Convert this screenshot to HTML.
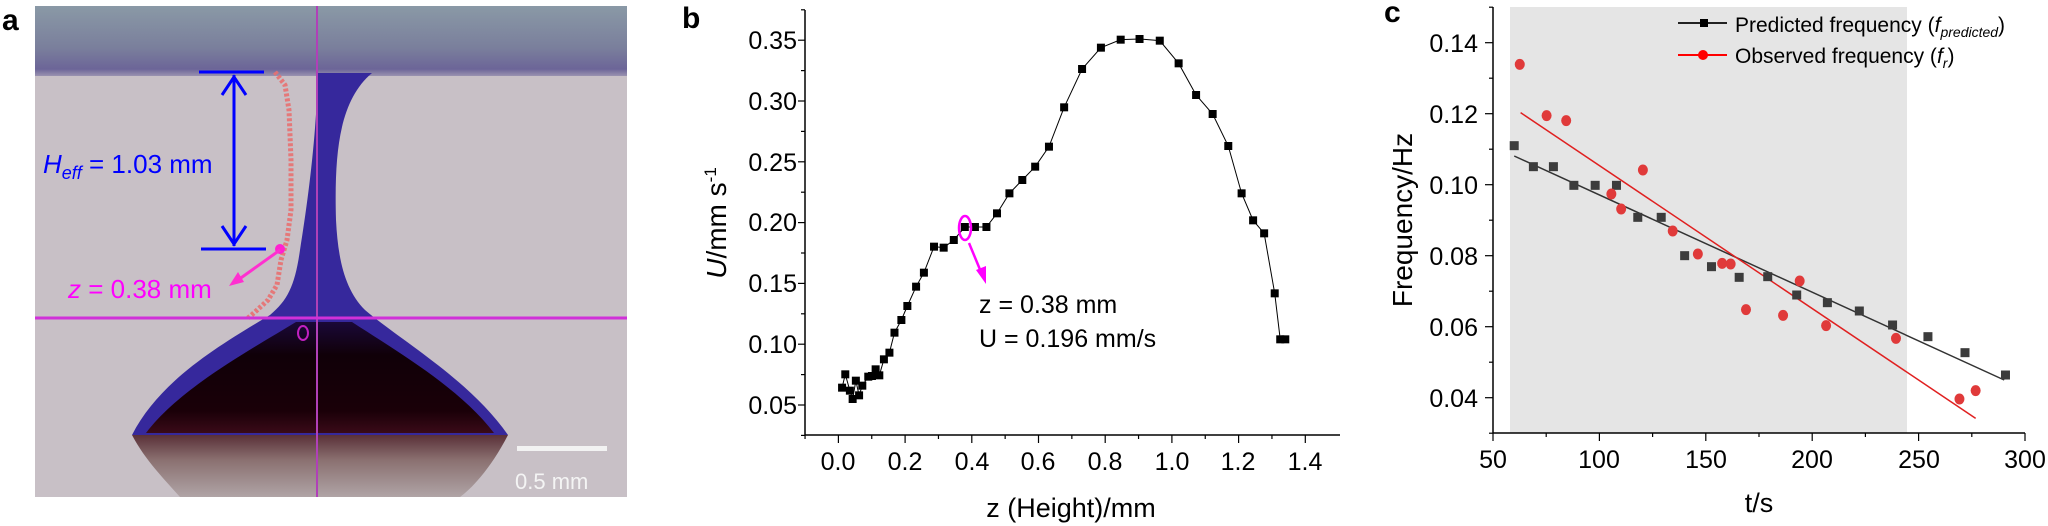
<!DOCTYPE html>
<html><head><meta charset="utf-8"><style>
html,body{margin:0;padding:0;background:#fff;}
svg{display:block;font-family:"Liberation Sans",sans-serif;}
</style></head><body>
<svg id="s" width="2048" height="526" viewBox="0 0 2048 526" xmlns="http://www.w3.org/2000/svg">
<defs>
<linearGradient id="top" x1="0" y1="0" x2="0" y2="1">
<stop offset="0" stop-color="#8a99a6"/><stop offset="0.6" stop-color="#7a7f9c"/><stop offset="0.9" stop-color="#6c6598"/><stop offset="1" stop-color="#9a92b0"/>
</linearGradient>
<linearGradient id="refl" x1="0" y1="0" x2="0" y2="1">
<stop offset="0" stop-color="#5a3038"/><stop offset="0.4" stop-color="#8a7070"/><stop offset="1" stop-color="#b0a4a6"/>
</linearGradient>
<linearGradient id="bulb" x1="0" y1="0" x2="0" y2="1">
<stop offset="0" stop-color="#1a0838"/><stop offset="0.3" stop-color="#100008"/><stop offset="0.8" stop-color="#1a0008"/><stop offset="1" stop-color="#3a0a18"/>
</linearGradient>
</defs>
<text x="2" y="30" font-size="30" font-weight="bold">a</text>
<rect x="35" y="6" width="592" height="491" fill="#c8c0c6"/>
<rect x="35" y="6" width="592" height="70" fill="url(#top)"/>
<path d="M132,435 L508,435 C490,470 470,490 460,497 L180,497 C165,480 145,460 132,435 Z" fill="url(#refl)"/>
<path d="M318,73 C316,140 308,200 300,250 C295,285 288,300 270,315 C220,345 160,380 132,435 L508,435 C470,380 400,340 365,310 C345,290 338,260 336,220 C334,150 340,100 372,73 Z" fill="#36289c"/>
<path d="M296,322 C250,350 180,388 146,433 L494,433 C460,388 395,350 352,322 Z" fill="url(#bulb)"/>
<polyline points="275,72 285,85 289,110 291,160 291,210 287,240 281,260 277,285 268,300 255,312 248,318" fill="none" stroke="#e87070" stroke-width="5" stroke-dasharray="3 2" opacity="0.9"/>
<line x1="317" y1="6" x2="317" y2="497" stroke="#b040b8" stroke-width="2"/>
<line x1="35" y1="318" x2="627" y2="318" stroke="#d030d8" stroke-width="3"/>
<ellipse cx="303" cy="333" rx="5" ry="7" fill="none" stroke="#c020c0" stroke-width="2"/>
<g stroke="#0000ff" stroke-width="3" fill="none">
<line x1="199" y1="72" x2="264" y2="72"/><line x1="201" y1="249" x2="266" y2="249"/>
<line x1="234" y1="75" x2="234" y2="246"/>
<polyline points="222,95 234,77 246,95"/><polyline points="222,226 234,244 246,226"/>
</g>
<text x="43" y="173" font-size="26" fill="#0000ff"><tspan font-style="italic">H</tspan><tspan font-style="italic" font-size="18" dy="6">eff</tspan><tspan dy="-6"> = 1.03 mm</tspan></text>
<circle cx="280" cy="249" r="5" fill="#ff20d0"/>
<line x1="280" y1="250" x2="238" y2="280" stroke="#ff30d0" stroke-width="3"/>
<polygon points="229,286 238,272 244,282" fill="#ff30d0"/>
<text x="68" y="298" font-size="26" fill="#ff00ff"><tspan font-style="italic">z</tspan> = 0.38 mm</text>
<rect x="517" y="446" width="90" height="5" fill="#f2f2f2"/>
<text x="515" y="489" font-size="22" fill="#f4f4f4">0.5 mm</text>

<text x="682" y="28" font-size="30" font-weight="bold">b</text>
<g stroke="#000" stroke-width="1.5">
<line x1="805" y1="10" x2="805" y2="435"/><line x1="805" y1="435" x2="1340" y2="435"/>
</g>
<g id="bticks" stroke="#000" stroke-width="1.2"></g>
<g font-size="25" text-anchor="end">
<text x="797" y="49">0.35</text><text x="797" y="110">0.30</text><text x="797" y="171">0.25</text><text x="797" y="231">0.20</text><text x="797" y="292">0.15</text><text x="797" y="353">0.10</text><text x="797" y="414">0.05</text>
</g>
<g font-size="25" text-anchor="middle">
<text x="838" y="470">0.0</text><text x="905" y="470">0.2</text><text x="972" y="470">0.4</text><text x="1038" y="470">0.6</text><text x="1105" y="470">0.8</text><text x="1172" y="470">1.0</text><text x="1238" y="470">1.2</text><text x="1305" y="470">1.4</text>
</g>
<text x="1071" y="517" font-size="27" text-anchor="middle">z (Height)/mm</text>
<text transform="translate(726,223) rotate(-90)" font-size="28" text-anchor="middle"><tspan font-style="italic">U</tspan>/mm s<tspan font-size="17" dy="-10">-1</tspan></text>
<polyline id="bline" fill="none" stroke="#000" stroke-width="1"/>
<g id="bpts" fill="#000"></g>
<ellipse cx="965" cy="228" rx="6" ry="12" fill="none" stroke="#ff00ff" stroke-width="2.5"/>
<line x1="969" y1="243" x2="981" y2="272" stroke="#ff00ff" stroke-width="2.5"/>
<polygon points="986,284 976,270 986,266" fill="#ff00ff"/>
<text x="979" y="313" font-size="25">z = 0.38 mm</text>
<text x="979" y="347" font-size="25">U = 0.196 mm/s</text>

<text x="1384" y="22" font-size="30" font-weight="bold">c</text>
<rect x="1510" y="7" width="397" height="426" fill="#e5e5e5"/>
<g stroke="#000" stroke-width="1.5">
<line x1="1493" y1="7" x2="1493" y2="433"/><line x1="1493" y1="433" x2="2025" y2="433"/>
</g>
<g id="cticks" stroke="#000" stroke-width="1.2"></g>
<g font-size="25" text-anchor="end">
<text x="1478" y="52">0.14</text><text x="1478" y="123">0.12</text><text x="1478" y="194">0.10</text><text x="1478" y="265">0.08</text><text x="1478" y="336">0.06</text><text x="1478" y="407">0.04</text>
</g>
<g font-size="25" text-anchor="middle">
<text x="1493" y="468">50</text><text x="1599" y="468">100</text><text x="1706" y="468">150</text><text x="1812" y="468">200</text><text x="1919" y="468">250</text><text x="2025" y="468">300</text>
</g>
<text x="1759" y="512" font-size="27" text-anchor="middle">t/s</text>
<text transform="translate(1412,220) rotate(-90)" font-size="28" text-anchor="middle">Frequency/Hz</text>
<line id="bl" stroke="#333" stroke-width="1.5"/>
<line id="rl" stroke="#e02020" stroke-width="1.5"/>
<g id="cpts"></g>
<line x1="1678" y1="23" x2="1727" y2="23" stroke="#222" stroke-width="2"/>
<rect x="1700" y="19" width="8" height="8" fill="#000"/>
<text x="1735" y="32" font-size="21">Predicted frequency (<tspan font-style="italic">f</tspan><tspan font-style="italic" font-size="14" dy="5">predicted</tspan><tspan dy="-5">)</tspan></text>
<line x1="1678" y1="55" x2="1727" y2="55" stroke="#ff0000" stroke-width="2"/>
<circle cx="1703" cy="55" r="5" fill="#ff0000"/>
<text x="1735" y="63" font-size="21">Observed frequency (<tspan font-style="italic">f</tspan><tspan font-style="italic" font-size="14" dy="5">r</tspan><tspan dy="-5">)</tspan></text>
</svg>
<script>
var NS="http://www.w3.org/2000/svg";
function el(p,t,a){var e=document.createElementNS(NS,t);for(var k in a)e.setAttribute(k,a[k]);document.getElementById(p).appendChild(e);return e;}
for(var v=0.025;v<=0.3751;v+=0.025){var y=405-(v-0.05)/0.05*60.8;var big=Math.abs(Math.round(v*40)%2)==0;el("bticks","line",{x1:805,x2:big?798:801,y1:y,y2:y});}
for(var z=-0.1;z<=1.451;z+=0.1){var x=838.4+z/0.2*66.7;var big=Math.round(z*10)%2==0;el("bticks","line",{x1:x,x2:x,y1:435,y2:big?443:439});}
var bp=[[483,1163],[490,1123],[500,1172],[506,1197],[513,1142],[520,1186],[527,1157],[540,1130],[548,1128],[556,1108],[564,1126],[574,1078],[586,1058],[597,998],[612,960],[625,918],[644,860],[661,818],[683,740],[704,743],[726,720],[750,681],[772,681],[797,681],[820,640],[847,580],[875,540],[903,500],[933,440],[966,322],[1005,207],[1046,143],[1089,119],[1130,117],[1174,122],[1215,190],[1253,285],[1289,342],[1323,438],[1352,580],[1377,661],[1401,700],[1424,880],[1436,1018],[1447,1018]];
var s=[];bp.forEach(function(p){var x=620+p[0]/2.175,y=p[1]/3;s.push(x+","+y);el("bpts","rect",{x:x-4,y:y-4,width:8,height:8});});
document.getElementById("bline").setAttribute("points",s.join(" "));
for(var v=0.03;v<=0.1501;v+=0.01){var y=397.7-(v-0.04)/0.02*71;var big=Math.round(v*100)%2==0;el("cticks","line",{x1:1493,x2:big?1485:1489,y1:y,y2:y});}
for(var t=50;t<=300;t+=25){var x=1493+(t-50)/50*106.4;var big=t%50==0;el("cticks","line",{x1:x,x2:x,y1:433,y2:big?441:437});}
function cx(X){return 1380+X/2.347;}
var bl=document.getElementById("bl");bl.setAttribute("x1",cx(315));bl.setAttribute("y1",468/3);bl.setAttribute("x2",cx(1465));bl.setAttribute("y2",1140/3);
var rl=document.getElementById("rl");rl.setAttribute("x1",cx(330));rl.setAttribute("y1",338/3);rl.setAttribute("x2",cx(1398));rl.setAttribute("y2",1255/3);
[[315,437],[360,500],[407,500],[455,556],[505,556],[555,556],[605,652],[660,652],[715,767],[778,800],[843,832],[910,830],[978,885],[1050,908],[1125,933],[1203,975],[1286,1010],[1373,1058],[1468,1125]].forEach(function(p){el("cpts","rect",{x:cx(p[0])-4.5,y:p[1]/3-4.5,width:9,height:9,fill:"#3c3c3c"});});
[[328,193],[391,347],[437,362],[617,510],[543,582],[566,627],[687,693],[746,762],[803,790],[823,792],[859,929],[946,946],[985,843],[1047,977],[1211,1015],[1360,1197],[1398,1172]].forEach(function(p){el("cpts","ellipse",{cx:cx(p[0]),cy:p[1]/3,rx:5,ry:5.5,fill:"#e03a3a"});});
</script>
</body></html>
